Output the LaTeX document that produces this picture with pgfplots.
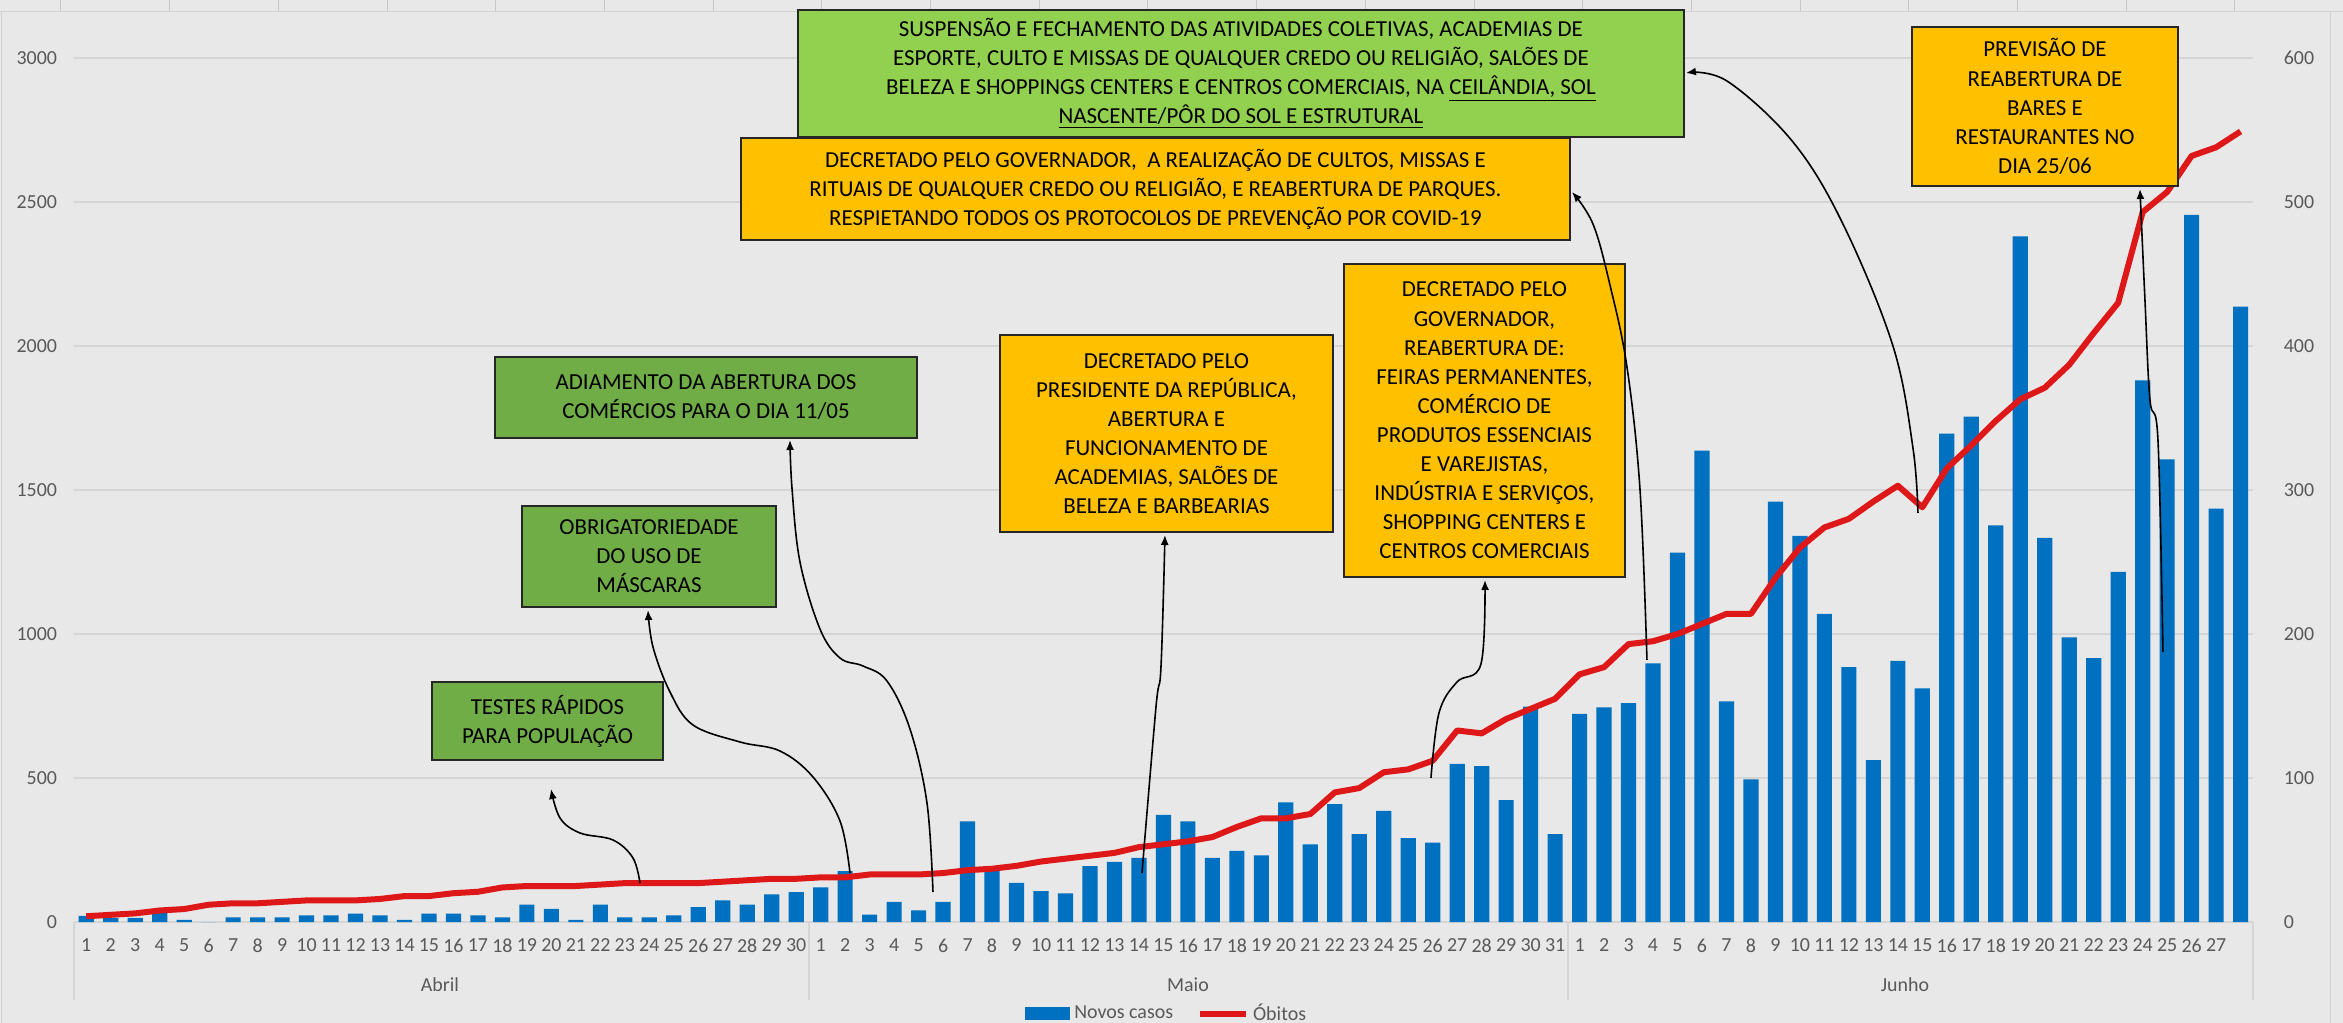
\documentclass[border=0pt]{standalone}
\usepackage{fontspec}
\setmainfont{Carlito}
\usepackage{pgfplots}
\usepackage{pgfplotstable}
\pgfplotsset{compat=1.18}
\usetikzlibrary{arrows.meta}
\definecolor{bgc}{RGB}{232,232,232}
\definecolor{gridc}{RGB}{213,213,213}
\definecolor{barblue}{RGB}{0,112,192}
\definecolor{linered}{RGB}{222,24,24}
\definecolor{dgreen}{RGB}{112,173,71}
\definecolor{lgreen}{RGB}{146,208,80}
\definecolor{orng}{RGB}{255,192,0}
\definecolor{tickc}{RGB}{89,89,89}
\newcommand\boxfont{\fontsize{11.5}{14.6}\selectfont}
\newcommand\tickfont{\fontsize{10}{10}\selectfont}

\pgfplotstableread{
idx casos obitos
0 21 4
1 14 5
2 14 6
3 35 8
4 7 9
5 0 12
6 16 13
7 16 13
8 16 14
9 23 15
10 23 15
11 29 15
12 23 16
13 7 18
14 29 18
15 29 20
16 23 21
17 16 24
18 60 25
19 46 25
20 7 25
21 60 26
22 16 27
23 16 27
24 23 27
25 52 27
26 75 28
27 60 29
28 96 30
29 104 30
30 120 31
31 177 31
32 26 33
33 70 33
34 40 33
35 70 34
36 349 36
37 180 37
38 136 39
39 107 42
40 99 44
41 194 46
42 209 48
43 223 52
44 372 54
45 349 56
46 223 59
47 247 66
48 231 72
49 415 72
50 270 75
51 409 90
52 305 93
53 386 104
54 291 106
55 276 112
56 549 133
57 541 131
58 423 141
59 748 148
60 305 155
61 723 172
62 745 177
63 760 193
64 898 195
65 1283 200
66 1637 207
67 766 214
68 495 214
69 1460 239
70 1341 260
71 1070 274
72 885 280
73 562 292
74 907 303
75 811 288
76 1696 315
77 1755 331
78 1377 348
79 2381 363
80 1334 371
81 988 387
82 916 409
83 1216 430
84 1881 493
85 1606 507
86 2455 532
87 1435 538
88 2137 549
}\dados

\begin{document}
\begin{tikzpicture}
\begin{scope}[x=0.5bp,y=-0.5bp]
\fill[bgc] (0,0) rectangle (2343,1023);
% faint spreadsheet marks at top and borders
\foreach \k in {0,...,21} {\draw[gray!45,line width=0.5bp] ({61+108.7*\k},0) -- ({61+108.7*\k},12);}
\draw[gray!35,line width=0.5bp] (0,12) -- (2343,12);
\draw[gray!35,line width=0.5bp] (2,12) -- (2,1023);
\draw[gray!35,line width=0.5bp] (2331,12) -- (2331,1023);
% category group separators
\foreach \xx in {74,809,1568,2253} {\draw[gridc,line width=0.7bp] (\xx,922) -- (\xx,1000);}
\node[text=tickc,font=\tickfont] at (440,985) {Abril};
\node[text=tickc,font=\tickfont] at (1188,985) {Maio};
\node[text=tickc,font=\tickfont] at (1905,985) {Junho};
\end{scope}

\begin{axis}[
  at={(37bp,-461bp)}, anchor=south west,
  width=1089.5bp, height=432bp, scale only axis,
  xmin=-0.5, xmax=88.5, ymin=0, ymax=3000,
  ytick={0,500,...,3000},
  scaled y ticks=false,
  /pgf/number format/1000 sep={},
  /pgf/number format/assume math mode=true,
  ymajorgrids, grid style={gridc,line width=0.7bp},
  axis line style={draw=none},
  major tick length=0,
  xtick={0,...,88},
  xticklabels={1,2,3,4,5,6,7,8,9,10,11,12,13,14,15,16,17,18,19,20,21,22,23,24,25,26,27,28,29,30,
    1,2,3,4,5,6,7,8,9,10,11,12,13,14,15,16,17,18,19,20,21,22,23,24,25,26,27,28,29,30,31,
    1,2,3,4,5,6,7,8,9,10,11,12,13,14,15,16,17,18,19,20,21,22,23,24,25,26,27,{}},
  xticklabel style={font=\tickfont,text=tickc,yshift=-5bp},
  yticklabel style={font=\tickfont,text=tickc,xshift=-5bp},
  ytick pos=left, xtick pos=bottom,
]
\addplot[ybar, bar width=0.62, fill=barblue, draw=none] table[x=idx,y=casos] {\dados};
\end{axis}

\begin{axis}[
  at={(37bp,-461bp)}, anchor=south west,
  width=1089.5bp, height=432bp, scale only axis,
  xmin=-0.5, xmax=88.5, ymin=0, ymax=600,
  hide x axis,
  axis y line*=right,
  y axis line style={draw=none},
  major tick length=0,
  ytick={0,100,...,600},
  /pgf/number format/assume math mode=true,
  yticklabel style={font=\tickfont,text=tickc,xshift=12bp},
  legend columns=2,
  legend style={at={(0.502,-0.106)}, anchor=center, draw=none, fill=none,
    font=\tickfont, text=tickc,
    /tikz/every even column/.append style={column sep=10bp}},
]
\addlegendimage{legend image code/.code={\fill[barblue] (0bp,-3bp) rectangle (22bp,3bp);}}
\addlegendentry{Novos casos}
\addplot[linered, line width=3bp, line join=round, mark=none,
  legend image code/.code={\draw[linered,line width=3bp] (0bp,0bp) -- (23bp,0bp);}]
  table[x=idx,y=obitos] {\dados};
\addlegendentry{Óbitos}
\end{axis}

\begin{scope}[x=0.5bp,y=-0.5bp]
\tikzset{ann/.style={draw=black!85, line width=1bp},
         arr/.style={black, line width=0.8bp, -{Latex[length=5bp,width=4bp]}}}
% boxes
\draw[ann,fill=dgreen] (432,682) rectangle (663,760);
\node[align=center,font=\boxfont] at (547.5,721) {TESTES RÁPIDOS\\PARA POPULAÇÃO};
\draw[ann,fill=dgreen] (522,506) rectangle (776,607);
\node[align=center,font=\boxfont] at (649,556.5) {OBRIGATORIEDADE\\DO USO DE\\MÁSCARAS};
\draw[ann,fill=dgreen] (495,357) rectangle (917,438);
\node[align=center,font=\boxfont] at (706,397.5) {ADIAMENTO DA ABERTURA DOS\\COMÉRCIOS PARA O DIA 11/05};
\draw[ann,fill=lgreen] (798,10) rectangle (1684,137);
\node[align=center,font=\boxfont] at (1241,73.5) {SUSPENSÃO E FECHAMENTO DAS ATIVIDADES COLETIVAS, ACADEMIAS DE\\ESPORTE, CULTO E MISSAS DE QUALQUER CREDO OU RELIGIÃO, SALÕES DE\\BELEZA E SHOPPINGS CENTERS E CENTROS COMERCIAIS, NA \underline{CEILÂNDIA, SOL}\\\underline{NASCENTE/PÔR DO SOL E ESTRUTURAL}};
\draw[ann,fill=orng] (741,138) rectangle (1570,240);
\node[align=center,font=\boxfont] at (1155.5,189) {DECRETADO PELO GOVERNADOR, \ A REALIZAÇÃO DE CULTOS, MISSAS E\\RITUAIS DE QUALQUER CREDO OU RELIGIÃO, E REABERTURA DE PARQUES.\\RESPIETANDO TODOS OS PROTOCOLOS DE PREVENÇÃO POR COVID-19};
\draw[ann,fill=orng] (1000,335) rectangle (1333,532);
\node[align=center,font=\boxfont] at (1166.5,433.5) {DECRETADO PELO\\PRESIDENTE DA REPÚBLICA,\\ABERTURA E\\FUNCIONAMENTO DE\\ACADEMIAS, SALÕES DE\\BELEZA E BARBEARIAS};
\draw[ann,fill=orng] (1344,264) rectangle (1625,577);
\node[align=center,font=\boxfont] at (1484.5,420.5) {DECRETADO PELO\\GOVERNADOR,\\REABERTURA DE:\\FEIRAS PERMANENTES,\\COMÉRCIO DE\\PRODUTOS ESSENCIAIS\\E VAREJISTAS,\\INDÚSTRIA E SERVIÇOS,\\SHOPPING CENTERS E\\CENTROS COMERCIAIS};
\draw[ann,fill=orng] (1912,27) rectangle (2178,186);
\node[align=center,font=\boxfont] at (2045,106.5) {PREVISÃO DE\\REABERTURA DE\\BARES E\\RESTAURANTES NO\\DIA 25/06};
% arrows
\draw[arr] plot[smooth,tension=0.6] coordinates {(640,883) (633,858) (613,840) (580,833) (560,818) (551,789)};
\draw[arr] plot[smooth,tension=0.6] coordinates {(850,873) (840,821) (813,777) (780,751) (740,742) (693,725) (670,692) (653,647) (648,610)};
\draw[arr] plot[smooth,tension=0.6] coordinates {(933,892) (927,803) (910,729) (887,681) (863,666) (840,658) (820,629) (800,562) (792,488) (790,440)};
\draw[arr] plot[smooth,tension=0.6] coordinates {(1918,513) (1913,448) (1893,346) (1843,224) (1793,142) (1727,81) (1686,73)};
\draw[arr] plot[smooth,tension=0.6] coordinates {(1647,660) (1640,489) (1627,367) (1610,285) (1593,224) (1572,192)};
\draw[arr] plot[smooth,tension=0.6] coordinates {(1142,873) (1156,707) (1161,667) (1165,535)};
\draw[arr] plot[smooth,tension=0.6] coordinates {(1431,778) (1439,713) (1457,682) (1481,664) (1485,580)};
\draw[arr] plot[smooth,tension=0.6] coordinates {(2163,652) (2158,440) (2150,400) (2145,300) (2140,189)};
\end{scope}
\pgfresetboundingbox
\path[use as bounding box] (0bp,0bp) rectangle (1171.5bp,-511.5bp);
\end{tikzpicture}
\end{document}
